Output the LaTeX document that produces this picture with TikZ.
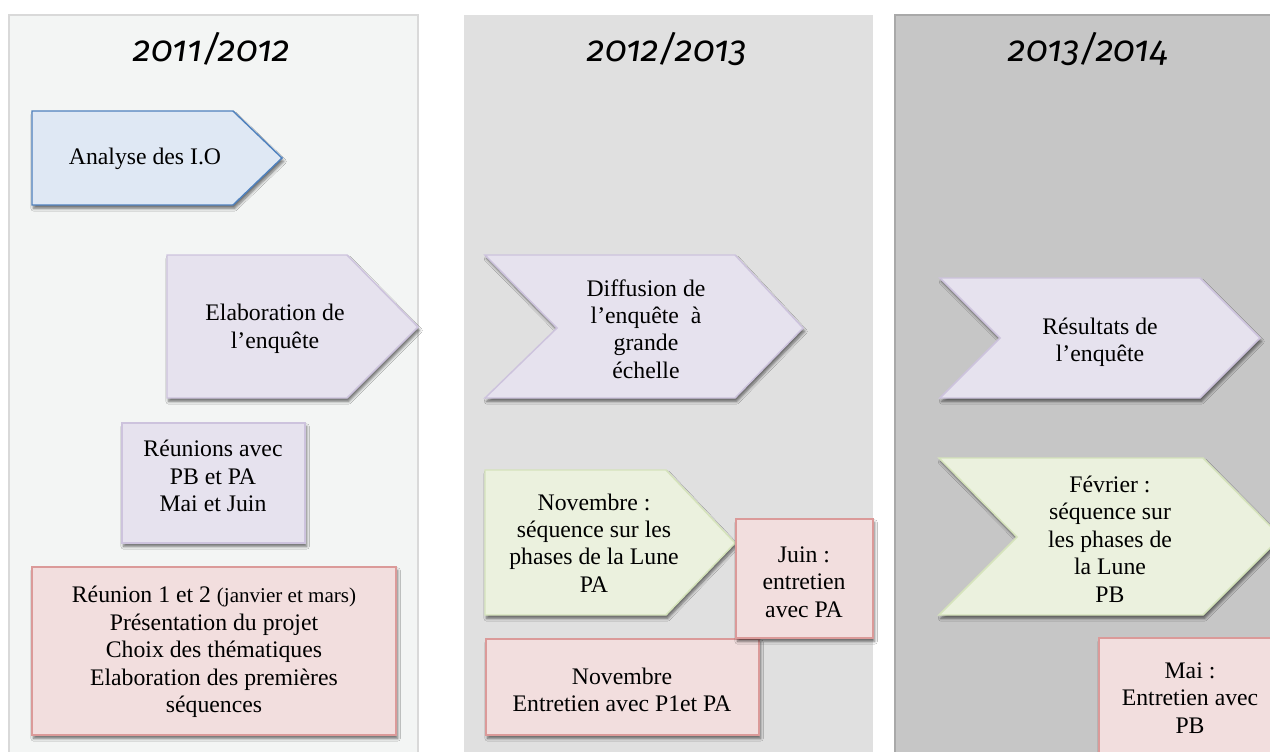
\documentclass[tikz,border=0pt]{standalone}
\usepackage{fontspec}
\setmainfont{Liberation Serif}
\newfontfamily\yearfont{Fira Sans}[Numbers=OldStyle]
\usetikzlibrary{shadows,shadows.blur}
\definecolor{colA}{HTML}{F3F5F4}
\definecolor{colAline}{HTML}{D9D9D9}
\definecolor{colB}{HTML}{E0E0E0}
\definecolor{colC}{HTML}{C6C6C6}
\definecolor{colCline}{HTML}{A9A9A9}
\definecolor{blueF}{HTML}{DFE8F4}
\definecolor{blueD}{HTML}{4F81BD}
\definecolor{lavF}{HTML}{E6E2EE}
\definecolor{lavD}{HTML}{CDC3DD}
\definecolor{grnF}{HTML}{EBF1DE}
\definecolor{grnD}{HTML}{D5E3BB}
\definecolor{pnkF}{HTML}{F2DEDE}
\definecolor{pnkD}{HTML}{DB9A99}
\tikzset{
  shd/.style={blur shadow={shadow xshift=1.2pt, shadow yshift=-2.6pt, shadow blur radius=2pt, shadow blur steps=6, shadow opacity=55}},
  bluebox/.style={fill=blueF, draw=blueD, line width=1.1pt, shd},
  lavbox/.style={fill=lavF, draw=lavD, line width=1.1pt, shd},
  grnbox/.style={fill=grnF, draw=grnD, line width=1.1pt, shd},
  pnkbox/.style={fill=pnkF, draw=pnkD, line width=1.1pt, shd},
  txt/.style={align=center, font=\fontsize{17.8}{20.6}\selectfont, inner sep=0pt},
  year/.style={anchor=base, inner sep=0pt, font=\yearfont\itshape\fontsize{27}{30}\selectfont}
}
\begin{document}
\begin{tikzpicture}[x=0.75pt,y=-0.75pt]
\useasboundingbox (0,0) rectangle (1270,751);
\begin{scope}
\clip (0,0) rectangle (1270,751);
\fill[white] (0,0) rectangle (1270,751);
% columns
\draw[colAline, fill=colA, line width=1pt] (9,15) rectangle (418,770);
\fill[colB] (464,15) rectangle (873,770);
\draw[colCline, fill=colC, line width=1pt] (895,15) rectangle (1300,770);
% headers
\node[year] (y1) at (212,61) {2011/2012};
\node[year] (y2) at (667,61) {2012/2013};
\node[year] (y3) at (1088,61) {2013/2014};
% column 1
\draw[bluebox] (32,111) -- (233,111) -- (282,158) -- (233,205) -- (32,205) -- cycle;
\node[txt] (t1) at (145,159) {Analyse des I.O};
\draw[lavbox] (167,255) -- (347,255) -- (418,327) -- (347,398) -- (167,398) -- cycle;
\node[txt] (t2) at (275,329) {Elaboration de\\l’enquête};
\draw[lavbox] (122,423) rectangle (305,543);
\node[txt] (t3) at (213,476) {Réunions avec\\PB et PA\\Mai et Juin};
\draw[pnkbox] (32,567) rectangle (396,735);
\node[txt] (t4) at (214,652) {Réunion 1 et 2 {\fontsize{15.8}{20.6}\selectfont(janvier et mars)}\\Présentation du projet\\Choix des thématiques\\Elaboration des premières\\séquences};
% column 2
\draw[lavbox] (485,255) -- (735,255) -- (803,328) -- (735,398) -- (485,398) -- (557,328) -- cycle;
\node[txt] (t5) at (646,329) {Diffusion de\\l’enquête\ \ à\\grande\\échelle};
\draw[grnbox] (485,470) -- (666,470) -- (735,543) -- (666,615) -- (485,615) -- cycle;
\node[txt] (t6) at (594,543) {Novembre :\\séquence sur les\\phases de la Lune\\PA};
\draw[pnkbox] (486,639) rectangle (759,735);
\node[txt] (t7) at (622,690) {Novembre\\Entretien avec P1et PA};
\draw[pnkbox] (736,519) rectangle (873,638);
\node[txt] (t8) at (804,582) {Juin :\\entretien\\avec PA};
% column 3
\draw[lavbox] (940,278) -- (1200,278) -- (1260,338) -- (1200,398) -- (940,398) -- (1000,338) -- cycle;
\node[txt] (t9) at (1100,342) {Résultats de\\l’enquête};
\draw[grnbox] (939,458) -- (1203,458) -- (1281,537) -- (1203,615) -- (939,615) -- (1017,537) -- cycle;
\node[txt] (t10) at (1110,539) {Février :\\séquence sur\\les phases de\\la Lune\\PB};
\draw[pnkbox] (1099,638) rectangle (1300,780);
\node[txt] (t11) at (1190,698) {Mai :\\Entretien avec\\PB};
\end{scope}
\end{tikzpicture}
\end{document}
